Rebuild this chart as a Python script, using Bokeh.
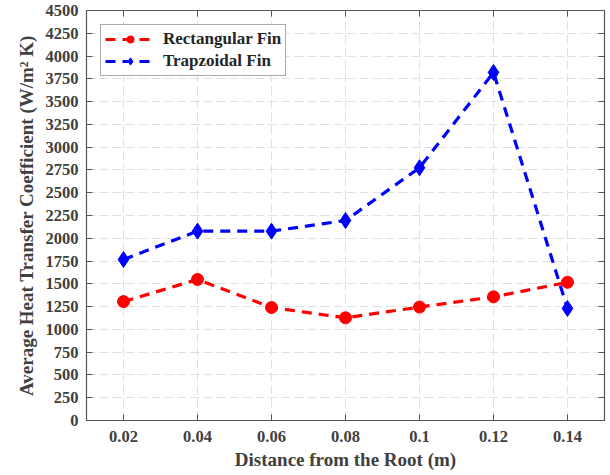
from bokeh.plotting import figure
from bokeh.models import LinearAxis, Range1d, FixedTicker, Legend, LegendItem, ColumnDataSource
from bokeh.embed import file_html
from bokeh.resources import INLINE

x = [0.02, 0.04, 0.06, 0.08, 0.1, 0.12, 0.14]
rect_fin = [1305, 1548, 1240, 1127, 1245, 1357, 1517]
trap_fin = [1767, 2078, 2078, 2195, 2774, 3820, 1229]
x_ticks = [0.02, 0.04, 0.06, 0.08, 0.1, 0.12, 0.14]
y_ticks = list(range(0, 4501, 250))

FONT = "Liberation Serif"
TXT = "#404040"

p = figure(width=610, height=475, output_backend="svg", toolbar_location=None,
           x_range=Range1d(0.01, 0.15), y_range=Range1d(0, 4500),
           min_border_left=86, min_border_right=6, min_border_top=10, min_border_bottom=55)

p.outline_line_color = "#555555"
p.outline_line_width = 1.2

for ax in [p.xaxis[0], p.yaxis[0]]:
    ax.major_tick_in = 6
    ax.major_tick_out = 0
    ax.minor_tick_in = 0
    ax.minor_tick_out = 0
    ax.axis_line_color = "#555555"
    ax.major_tick_line_color = "#555555"
    ax.major_label_text_font = FONT
    ax.major_label_text_font_style = "bold"
    ax.major_label_text_font_size = "16.5px"
    ax.major_label_text_color = TXT
    ax.axis_label_text_font = FONT
    ax.axis_label_text_font_style = "bold"
    ax.axis_label_text_font_size = "19px"
    ax.axis_label_text_color = TXT

p.xaxis[0].ticker = FixedTicker(ticks=x_ticks)
p.xaxis[0].major_label_overrides = {0.1: "0.1"}
p.yaxis[0].ticker = FixedTicker(ticks=y_ticks)
p.xaxis[0].axis_label = "Distance from the Root (m)"
p.yaxis[0].axis_label = "Average Heat Transfer Coefficient (W/m\u00b2 K)"
p.xaxis[0].major_label_standoff = 10
p.xaxis[0].axis_label_standoff = 4
p.yaxis[0].major_label_standoff = 8
p.yaxis[0].axis_label_standoff = 6

top = LinearAxis(ticker=FixedTicker(ticks=x_ticks), major_tick_in=6, major_tick_out=0,
                 minor_tick_in=0, minor_tick_out=0,
                 major_label_overrides={t: "" for t in x_ticks},
                 axis_line_color="#555555", major_tick_line_color="#555555", major_label_standoff=0)
right = LinearAxis(ticker=FixedTicker(ticks=y_ticks), major_tick_in=6, major_tick_out=0,
                   minor_tick_in=0, minor_tick_out=0,
                   major_label_overrides={t: "" for t in y_ticks},
                   axis_line_color="#555555", major_tick_line_color="#555555", major_label_standoff=0)
p.add_layout(top, "above")
p.add_layout(right, "right")

for g in [p.xgrid[0], p.ygrid[0]]:
    g.grid_line_color = "#e0e0e0"
    g.grid_line_dash = "9 4"
    g.grid_line_width = 1
p.xgrid[0].ticker = FixedTicker(ticks=x_ticks)
p.ygrid[0].ticker = FixedTicker(ticks=y_ticks)

src = ColumnDataSource(dict(x=x, r=rect_fin, t=trap_fin))
r1 = p.line("x", "r", source=src, line_color="red", line_width=3.2, line_dash="10 7")
r1m = p.scatter("x", "r", source=src, marker="circle", size=12, color="red")
r2 = p.line("x", "t", source=src, line_color="blue", line_width=3.2, line_dash="10 7")
r2m = p.scatter("x", "t", source=src, marker="diamond", size=16, color="blue")

legend = Legend(items=[LegendItem(label="Rectangular Fin", renderers=[r1, r1m]),
                       LegendItem(label="Trapzoidal Fin", renderers=[r2, r2m])],
                location="top_left")
legend.label_text_font = FONT
legend.label_text_font_style = "bold"
legend.label_text_font_size = "17px"
legend.label_text_color = "#262626"
legend.border_line_color = "#555555"
legend.border_line_width = 1
legend.glyph_width = 50
legend.glyph_height = 18
legend.spacing = 2
legend.padding = 4
legend.margin = 14
legend.label_standoff = 8
legend.background_fill_alpha = 1
p.add_layout(legend)

open("out.html", "w").write(file_html(p, INLINE))
